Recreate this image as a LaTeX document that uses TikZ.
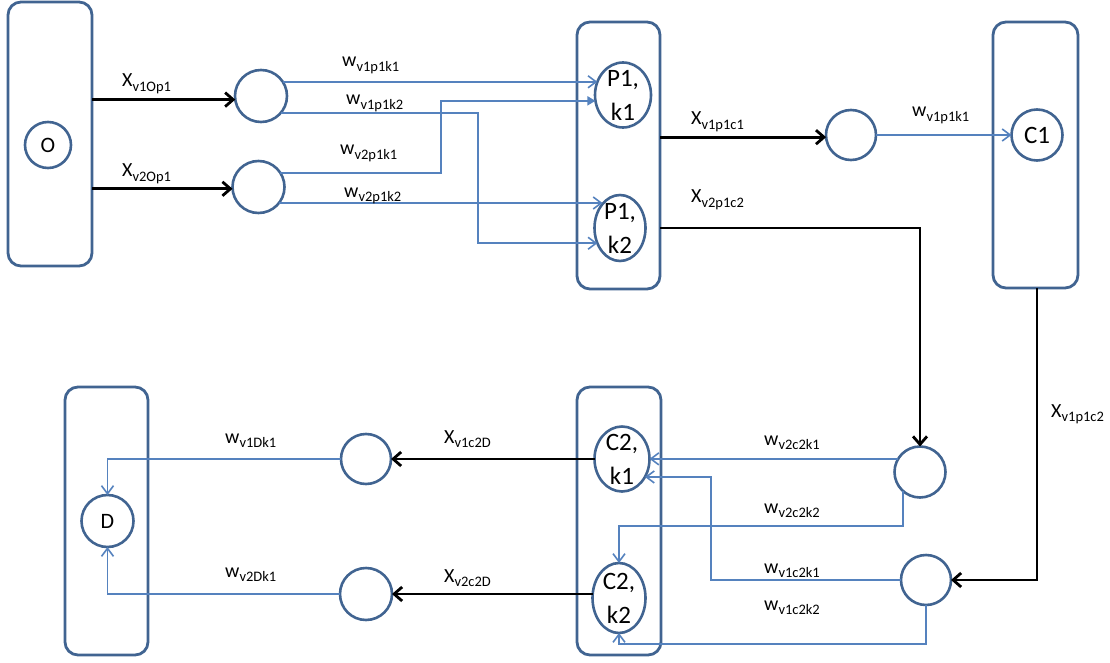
\documentclass[tikz,border=0pt]{standalone}
\usepackage{fontspec}
\setmainfont{Carlito}
\usetikzlibrary{shapes.geometric,arrows.meta,calc}
\definecolor{edgeblue}{RGB}{65,100,145}
\definecolor{wireblue}{RGB}{85,130,190}
\newcommand{\lsub}[1]{\raisebox{-4.5pt}{\fontsize{14.5}{14.5}\selectfont #1}}
\tikzset{
  grp/.style={draw=edgeblue, line width=2.8pt, rounded corners=13pt, inner sep=0pt, outer sep=0pt},
  ring/.style={circle, draw=edgeblue, line width=2.6pt, inner sep=0pt, outer sep=0pt},
  oval/.style={ellipse, draw=edgeblue, line width=2.6pt, inner sep=0pt, outer sep=0pt},
  flow/.style={line width=2.8pt, -{Straight Barb[length=8pt,width=14pt]}},
  wflow/.style={draw=wireblue, line width=1.6pt, -{Straight Barb[length=8pt,width=12pt]}},
  lab/.style={anchor=base west, inner sep=0pt, font=\fontsize{20}{22}\selectfont},
  ntext/.style={font=\fontsize{25}{34}\selectfont, align=center, inner sep=0pt},
  rtext/.style={font=\fontsize{22}{22}\selectfont}
}
\begin{document}
\begin{tikzpicture}[x=1pt,y=-1pt]
\useasboundingbox (0,0) rectangle (1110,663);
% group boxes
\node[grp, minimum width=84pt, minimum height=264pt] (boxO) at (50,134) {};
\node[grp, minimum width=83pt, minimum height=267pt] (boxP) at (618.5,155.5) {};
\node[grp, minimum width=85pt, minimum height=266pt] (boxC1) at (1035.5,155) {};
\node[grp, minimum width=84pt, minimum height=268pt] (boxC2) at (619,521) {};
\node[grp, minimum width=83pt, minimum height=268pt] (boxD) at (106.5,521) {};
% circles
\node[ring, minimum size=46pt, rtext] (cO) at (48,145) {O};
\node[ring, minimum size=52pt] (c1) at (261,96) {};
\node[ring, minimum size=52pt] (c2) at (258.5,187) {};
\node[ring, minimum size=50pt] (c3) at (851,135) {};
\node[ring, minimum size=51pt, font=\fontsize{25}{25}\selectfont] (cC1) at (1037,135) {C1};
\node[ring, minimum size=51pt] (cA) at (920,472) {};
\node[ring, minimum size=50pt] (cB) at (926,580) {};
\node[ring, minimum size=50pt] (cE) at (366,459) {};
\node[ring, minimum size=52pt] (cF) at (366,594) {};
\node[ring, minimum size=52pt, rtext] (cD) at (107.5,521) {D};
% ellipses
\node[oval, minimum width=56pt, minimum height=65pt] (pk1) at (623,95) {};
\node[oval, minimum width=51pt, minimum height=66pt] (pk2) at (620,228) {};
\node[oval, minimum width=55pt, minimum height=65pt] (ck1) at (622,459) {};
\node[oval, minimum width=53pt, minimum height=70pt] (ck2) at (619,598) {};
\node[ntext] (pk1t) at (pk1) {P1,\\k1};
\node[ntext] (pk2t) at (pk2) {P1,\\k2};
\node[ntext] (ck1t) at (ck1) {C2,\\k1};
\node[ntext] (ck2t) at (ck2) {C2,\\k2};
% bend coordinates
\coordinate (j1) at (478,0);
\coordinate (j2) at (441,0);
\coordinate (j3) at (711,0);
\coordinate (j4) at (0,526);
\coordinate (j5) at (0,644);
% black flows
\draw[flow] (boxO.east |- c1.188) -- (c1.188);
\draw[flow] (boxO.east |- c2.184) -- (c2.184);
\draw[flow] (boxP.east |- c3.185) -- (c3.185);
\draw[flow] (boxP.east |- pk2) -- (pk2 -| cA) -- (cA.north);
\draw[flow] (boxC1.south -| cC1) -- (cC1 |- cB) -- (cB.east);
\draw[flow] (ck1.west) -- (cE.east);
\draw[flow] (ck2.west |- cF.east) -- (cF.east);
% blue flows
\draw[wflow] (c1.33) -- (c1.33 -| pk1.153);
\draw[wflow] (c1.-40) -- (c1.-40 -| j1) -- (j1 |- pk2.214) -- (pk2.214);
\draw[wflow, -{Triangle[length=8pt,width=9pt]}] (c2.33) -- (c2.33 -| j2) -- (j2 |- pk1.192) -- (pk1.192);
\draw[wflow] (c2.-38) -- (c2.-38 -| pk2.126);
\draw[wflow] (c3.east) -- (cC1.west);
\draw[wflow] (cA.149) -- (cA.149 -| ck1.east);
\draw[wflow] (cB.west) -- (cB.west -| j3) -- (j3 |- ck1.-38) -- (ck1.-38);
\draw[wflow] (cA.228) -- (cA.228 |- j4) -- (ck2.north |- j4) -- (ck2.north);
\draw[wflow] (cB.south) -- (cB.south |- j5) -- (ck2.south |- j5) -- (ck2.south);
\draw[wflow] (cE.west) -- (cE.west -| cD.north) -- (cD.north);
\draw[wflow] (cF.west) -- (cF.west -| cD.south) -- (cD.south);
% labels
\node[lab] (l1) at (122,87) {X\lsub{v1Op1}};
\node[lab] (l2) at (122,177) {X\lsub{v2Op1}};
\node[lab] (l3) at (342,67) {w\lsub{v1p1k1}};
\node[lab] (l4) at (346,105) {w\lsub{v1p1k2}};
\node[lab] (l5) at (340,155) {w\lsub{v2p1k1}};
\node[lab] (l6) at (344,197) {w\lsub{v2p1k2}};
\node[lab] (l7) at (691,125) {X\lsub{v1p1c1}};
\node[lab] (l8) at (691,203) {X\lsub{v2p1c2}};
\node[lab] (l9) at (912,117) {w\lsub{v1p1k1}};
\node[lab] (l10) at (1051,417) {X\lsub{v1p1c2}};
\node[lab] (l11) at (764,445) {w\lsub{v2c2k1}};
\node[lab] (l12) at (764,513) {w\lsub{v2c2k2}};
\node[lab] (l13) at (764,573) {w\lsub{v1c2k1}};
\node[lab] (l14) at (764,610) {w\lsub{v1c2k2}};
\node[lab] (l15) at (444,443) {X\lsub{v1c2D}};
\node[lab] (l16) at (444,582) {X\lsub{v2c2D}};
\node[lab] (l17) at (225,443) {w\lsub{v1Dk1}};
\node[lab] (l18) at (225,577) {w\lsub{v2Dk1}};
\end{tikzpicture}
\end{document}
